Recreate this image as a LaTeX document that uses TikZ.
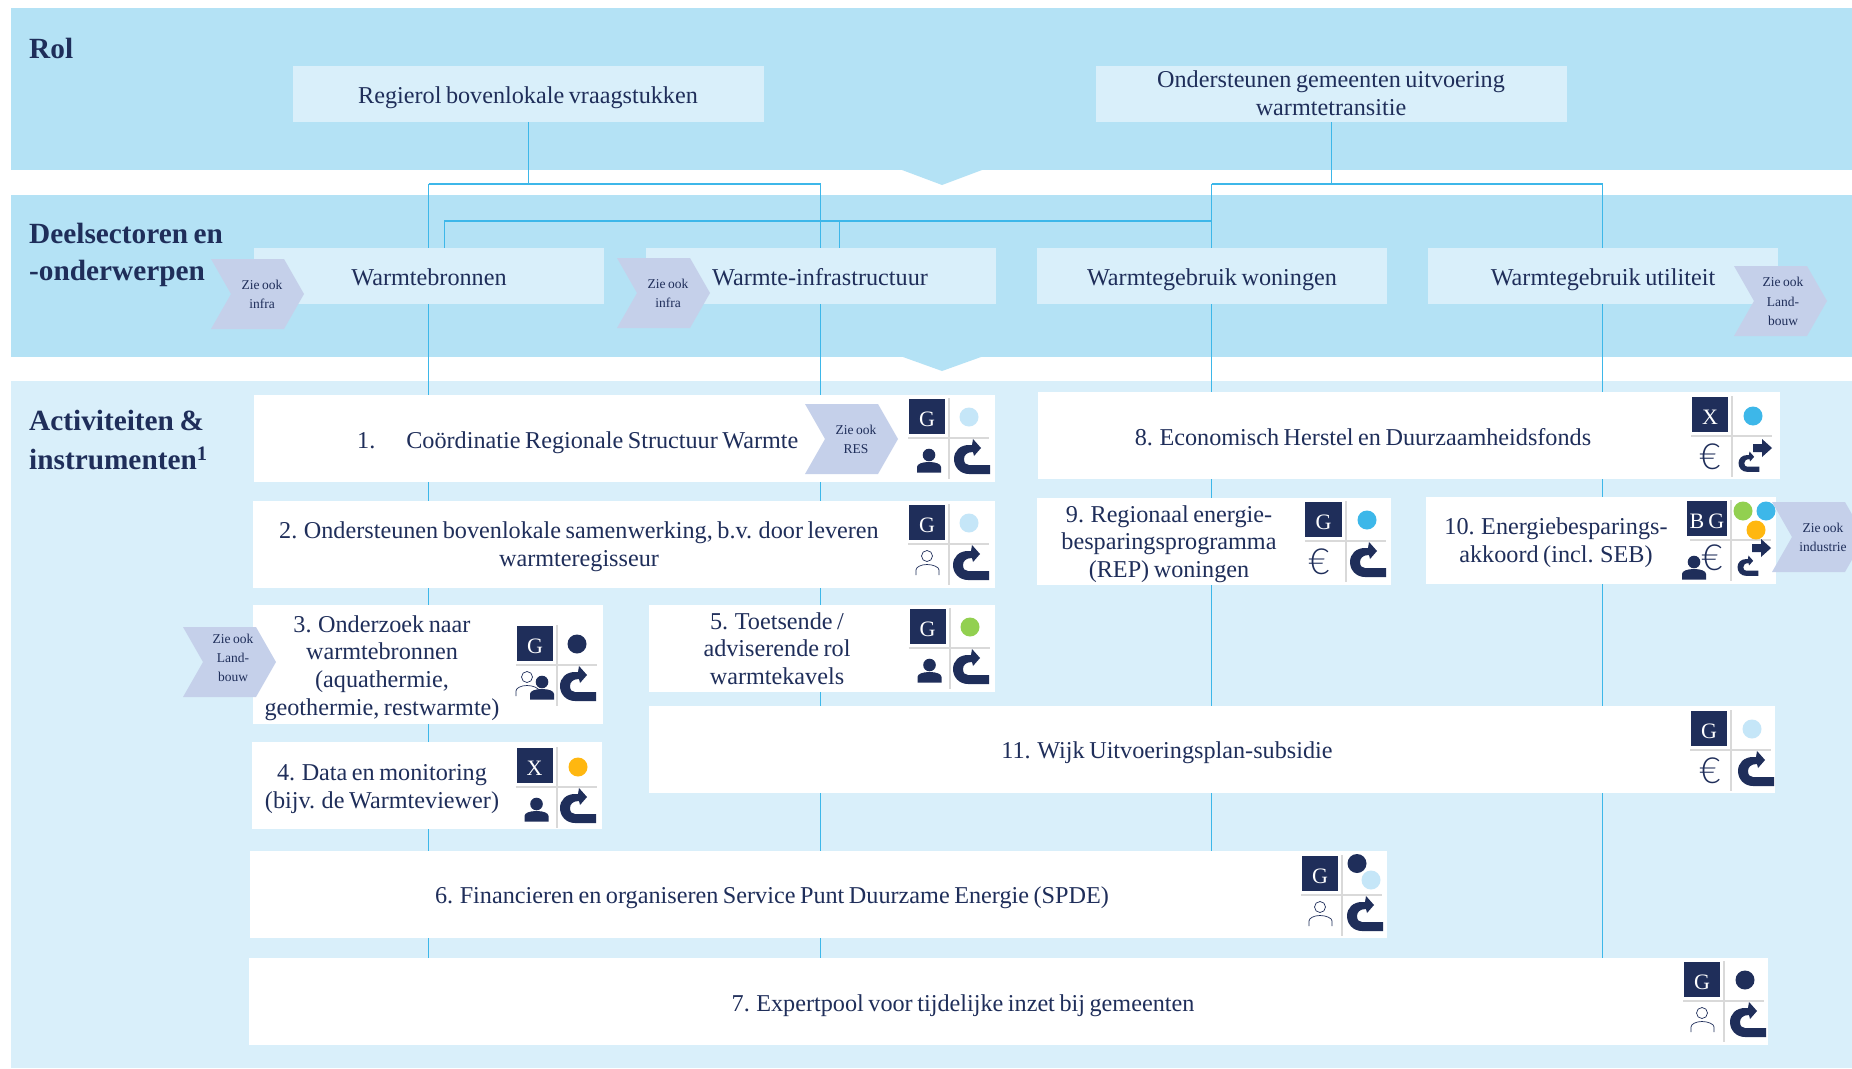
\documentclass[tikz,border=0pt]{standalone}
\usepackage{fontspec}
\setmainfont[WordSpace=0.75]{Liberation Serif}
\newfontfamily\eurofont{Lato Light}
\definecolor{navy}{HTML}{1F2E5A}
\definecolor{bandc}{HTML}{B4E2F5}
\definecolor{lightc}{HTML}{D9EFFA}
\definecolor{chevc}{HTML}{C5D0EA}
\definecolor{linec}{HTML}{3DB7E9}
\definecolor{gridc}{HTML}{D9D9D9}
\definecolor{dotlight}{HTML}{C5E6F8}
\definecolor{dotcyan}{HTML}{3DB7E9}
\definecolor{dotgreen}{HTML}{92D050}
\definecolor{dotamber}{HTML}{FFB710}
\tikzset{
  x=1pt,y=-1pt,
  txt/.style={font=\fontsize{24.2}{27.7}\selectfont,text=navy,align=center,inner sep=0pt,yshift=-2.5pt,
    execute at begin node=\strut,execute at end node=\strut},
  head/.style={font=\bfseries\fontsize{29.3}{32}\selectfont,text=navy,anchor=west,inner sep=0pt},
  lbox/.style={fill=lightc,inner sep=0pt,minimum height=56pt},
  wbox/.style={fill=white,inner sep=0pt,minimum height=87pt},
  chevtxt/.style={font=\fontsize{13.5}{19.3}\selectfont,text=navy,align=center,inner sep=0pt},
  link/.style={draw=linec,line width=1pt},
  hublink/.style={draw=linec,line width=1.6pt},
  gridline/.style={draw=gridc,line width=2pt},
  sqtxt/.style={font=\fontsize{22}{22}\selectfont,text=white,inner sep=0pt},
  dot/.style={circle,inner sep=0pt,minimum size=19pt},
  eurotxt/.style={font=\eurofont\fontsize{36}{36}\selectfont,text=navy,inner sep=0pt},
}
\newcounter{iconno}
% arrow-shaped reference tag: x, y, name, text offset x, text offset y, text
\newcommand{\zie}[6]{%
  \fill[chevc] (#1,#2) -- ++(73,0) -- ++(20,35) -- ++(-20,35) -- ++(-73,0) -- ++(20,-35) -- cycle;
  \node[chevtxt] (#3) at (#1+#4,#2+#5) {#6};}
% base of an icon block: crossing at #1,#2; label #3; left edge of the square #4
\newcommand{\icongrid}[4]{%
  \stepcounter{iconno}%
  \draw[gridline] (#1-41,#2) -- (#1+40,#2);
  \draw[gridline] (#1,#2-40) -- (#1,#2+41);
  \fill[navy] (#1+#4,#2-39) rectangle (#1-4,#2-4);
  \node[sqtxt] (sq\theiconno) at ({#1+(#4-4)/2},#2-18.5) {#3};}
\newcommand{\bigarrowshape}{%
  \fill[navy] (42,27) -- (42,36) -- (21,36) .. controls (12,36) and (6,29) .. (6,21)
    .. controls (6,13) and (12,7) .. (21,7) -- (24,7) -- (25,1) -- (33,10) -- (26,18) -- (25,14)
    .. controls (19,14) and (16,17) .. (16,21) .. controls (16,25) and (18,27) .. (21,27) -- cycle;}
\newcommand{\bigarrow}[2]{\begin{scope}[shift={(#1,#2)}]\bigarrowshape\end{scope}}
% small curved arrow with block arrow; #3 = vertical offset of the block arrow
\newcommand{\smallarrow}[3]{%
  \begin{scope}[shift={(#1,#2)}]
    \begin{scope}[shift={(3,15)},scale=.58]\bigarrowshape\end{scope}
    \fill[navy] (21,#3+4) -- (30,#3+4) -- (30,#3-1) -- (40,#3+8) -- (30,#3+17) -- (30,#3+12) -- (21,#3+12) -- cycle;
  \end{scope}}
\newcommand{\personfilled}[3]{%
  \begin{scope}[shift={(#1,#2)},scale=#3]
    \fill[navy] (-20,17) circle[radius=6.3];
    \fill[navy] (-32,34.5) -- (-32,29) .. controls (-32,26) and (-27,24) .. (-20,24)
      .. controls (-13,24) and (-8,26) .. (-8,29) -- (-8,34.5) -- cycle;
  \end{scope}}
\newcommand{\personline}[2]{%
  \begin{scope}[shift={(#1,#2)}]
    \draw[navy,line width=.7pt] (-22,12) circle[radius=5.5];
    \draw[navy,line width=.7pt] (-33,31) -- (-33,26) .. controls (-33,23) and (-28,20.5) .. (-22,20.5)
      .. controls (-16,20.5) and (-10,23) .. (-10,26) -- (-10,31);
  \end{scope}}
\newcommand{\euro}[2]{\node[eurotxt] (eur\theiconno) at (#1,#2) {€};}
\newcommand{\onedot}[4]{\node[dot,fill=#4] (dot\theiconno#3) at (#1,#2) {};}
\begin{document}
\begin{tikzpicture}
\clip (0,0) rectangle (1852,1068);
\useasboundingbox (0,0) rectangle (1852,1068);
\fill[white] (0,0) rectangle (1852,1068);
% bands
\fill[bandc] (11,8) rectangle (1852,170);
\fill[bandc] (11,195) rectangle (1852,357);
\fill[lightc] (11,381) rectangle (1852,1068);
\fill[bandc] (902,170) -- (982,170) -- (942,185) -- cycle;
\fill[bandc] (903,357) -- (981,357) -- (942,371) -- cycle;
% connector junctions
\coordinate (hubA) at (528,184);
\coordinate (hubB) at (1331,184);
\coordinate (hubC) at (444,221);
\coordinate (hubD) at (839,221);
% role and sector boxes
\node[lbox,minimum width=471pt] (regie) at (528,94) {};
\node[lbox,minimum width=471pt] (onder) at (1331,94) {};
\node[lbox,minimum width=350pt] (bron) at (428.5,276) {};
\node[lbox,minimum width=350pt] (infra) at (820.5,276) {};
\node[lbox,minimum width=350pt] (won) at (1211.5,276) {};
\node[lbox,minimum width=350pt] (util) at (1602.5,276) {};
% activity boxes
\node[wbox,minimum width=741pt] (b1) at (624.5,438.5) {};
\node[wbox,minimum width=742pt] (b2) at (624,544.5) {};
\node[wbox,minimum width=350pt,minimum height=119pt] (b3) at (428,664.5) {};
\node[wbox,minimum width=350pt] (b4) at (427,785.5) {};
\node[wbox,minimum width=346pt] (b5) at (822,648.5) {};
\node[wbox,minimum width=1137pt] (b6) at (818.5,894.5) {};
\node[wbox,minimum width=1519pt] (b7) at (1008.5,1001.5) {};
\node[wbox,minimum width=742pt] (b8) at (1409,435.5) {};
\node[wbox,minimum width=354pt] (b9) at (1214,541.5) {};
\node[wbox,minimum width=350pt] (b10) at (1601,540.5) {};
\node[wbox,minimum width=1126pt] (b11) at (1212,749.5) {};
% connectors, each segment between box edges
\draw[link] (regie.south) -- (hubA);
\draw[link] (onder.south) -- (hubB);
\draw[link] (bron.north) -- (bron.north |- hubA);
\draw[link] (infra.north) -- (infra.north |- hubA);
\draw[link] (won.north) -- (won.north |- hubB);
\draw[link] (util.north) -- (util.north |- hubB);
\draw[hublink] (bron.north |- hubA) -- (infra.north |- hubA);
\draw[hublink] (won.north |- hubB) -- (util.north |- hubB);
\draw[hublink] (hubC) -- (won.north |- hubC);
\draw[link] (hubC) -- (hubC |- bron.north);
\draw[link] (hubD) -- (hubD |- infra.north);
\draw[link] (bron.south) -- (bron.south |- b1.north);
\draw[link] (bron.south |- b1.south) -- (bron.south |- b2.north);
\draw[link] (bron.south |- b2.south) -- (bron.south |- b3.north);
\draw[link] (bron.south |- b3.south) -- (bron.south |- b4.north);
\draw[link] (bron.south |- b4.south) -- (bron.south |- b6.north);
\draw[link] (bron.south |- b6.south) -- (bron.south |- b7.north);
\draw[link] (infra.south) -- (infra.south |- b1.north);
\draw[link] (infra.south |- b1.south) -- (infra.south |- b2.north);
\draw[link] (infra.south |- b2.south) -- (infra.south |- b5.north);
\draw[link] (infra.south |- b5.south) -- (infra.south |- b11.north);
\draw[link] (infra.south |- b11.south) -- (infra.south |- b6.north);
\draw[link] (infra.south |- b6.south) -- (infra.south |- b7.north);
\draw[link] (won.south) -- (won.south |- b8.north);
\draw[link] (won.south |- b8.south) -- (won.south |- b9.north);
\draw[link] (won.south |- b9.south) -- (won.south |- b11.north);
\draw[link] (won.south |- b11.south) -- (won.south |- b6.north);
\draw[link] (util.south) -- (util.south |- b8.north);
\draw[link] (util.south |- b8.south) -- (util.south |- b10.north);
\draw[link] (util.south |- b10.south) -- (util.south |- b11.north);
\draw[link] (util.south |- b11.south) -- (util.south |- b7.north);
% headings
\node[head] (hRol) at (29,48) {Rol};
\node[head] (hDeelA) at (29,233) {Deelsectoren en};
\node[head] (hDeelB) at (29,273) {-onderwerpen};
\node[head] (hActA) at (29,420) {Activiteiten \&};
\node[head] (hActB) at (29,458) {instrumenten\textsuperscript{1}};
% box texts
\node[txt] (tregie) at (528,95) {Regierol bovenlokale vraagstukken};
\node[txt] (tonder) at (1331,95) {Ondersteunen gemeenten uitvoering\\warmtetransitie};
\node[txt] (tbron) at (429,277) {Warmtebronnen};
\node[txt] (tinfra) at (820,277) {Warmte-infrastructuur};
\node[txt] (twon) at (1212,277) {Warmtegebruik woningen};
\node[txt] (tutil) at (1603,277) {Warmtegebruik utiliteit};
\node[txt,anchor=west] (t1) at (357,440) {1.\hspace{31pt}Coördinatie Regionale Structuur Warmte};
\node[txt] (t2) at (579,546) {2. Ondersteunen bovenlokale samenwerking, b.v. door leveren\\warmteregisseur};
\node[txt] (t3) at (382,667) {3. Onderzoek naar\\warmtebronnen\\(aquathermie,\\geothermie, restwarmte)};
\node[txt] (t4) at (382,788) {4. Data en monitoring\\(bijv. de Warmteviewer)};
\node[txt] (t5) at (777,650) {5. Toetsende /\\adviserende rol\\warmtekavels};
\node[txt] (t6) at (772,895) {6. Financieren en organiseren Service Punt Duurzame Energie (SPDE)};
\node[txt] (t7) at (963,1003) {7. Expertpool voor tijdelijke inzet bij gemeenten};
\node[txt] (t8) at (1363,437) {8. Economisch Herstel en Duurzaamheidsfonds};
\node[txt] (t9) at (1169,543) {9. Regionaal energie-\\besparingsprogramma\\(REP) woningen};
\node[txt] (t10) at (1556,542) {10. Energiebesparings-\\akkoord (incl. SEB)};
\node[txt] (t11) at (1167,750) {11. Wijk Uitvoeringsplan-subsidie};
% reference tags
\zie{211}{259}{zA}{51}{35.5}{Zie ook\\infra}
\zie{617}{258}{zB}{51}{35.5}{Zie ook\\infra}
\zie{1734}{266}{zC}{49}{35.5}{Zie ook\\Land-\\bouw}
\zie{805}{404}{zD}{51}{35.5}{Zie ook\\RES}
\zie{183}{627}{zE}{50}{31}{Zie ook\\Land-\\bouw}
\zie{1772}{502}{zF}{51}{35.5}{Zie ook\\industrie}
% icon 1
\icongrid{949}{438}{G}{-40}
\onedot{969}{417}{a}{dotlight}
\personfilled{949}{438}{1}
\bigarrow{948}{438}
% icon 2
\icongrid{949}{544}{G}{-40}
\onedot{969}{523}{a}{dotlight}
\personline{949}{544}
\bigarrow{947}{544}
% icon 3
\icongrid{557}{665}{G}{-40}
\onedot{577}{644}{a}{navy}
\personline{549}{665}
\personfilled{562}{665}{1}
\bigarrow{554}{665}
% icon 4
\icongrid{556.5}{787}{X}{-40}
\onedot{578}{767}{a}{dotamber}
\personfilled{556.5}{787}{1}
\bigarrow{554}{787}
% icon 5
\icongrid{949.5}{648}{G}{-40}
\onedot{970}{627}{a}{dotgreen}
\personfilled{949.5}{648}{1}
\bigarrow{947}{648}
% icon 6
\icongrid{1342}{895}{G}{-40}
\onedot{1357}{863.5}{a}{navy}
\onedot{1371}{880}{b}{dotlight}
\personline{1342}{895}
\bigarrow{1341}{895}
% icon 7
\icongrid{1724}{1001}{G}{-40}
\onedot{1745}{980}{a}{navy}
\personline{1724}{1001}
\bigarrow{1724}{1001}
% icon 8
\icongrid{1732}{436}{X}{-40}
\onedot{1753}{416}{a}{dotcyan}
\euro{1710}{457}
\smallarrow{1732}{436}{4}
% icon 9
\icongrid{1346}{541}{G}{-41}
\onedot{1367}{520}{a}{dotcyan}
\euro{1319}{562}
\bigarrow{1344}{541}
% icon 10
\icongrid{1731}{540}{B G}{-44}
\onedot{1743}{511}{a}{dotgreen}
\onedot{1766}{511}{b}{dotcyan}
\onedot{1756}{530}{c}{dotamber}
\euro{1712}{558}
\personfilled{1714}{545}{1}
\smallarrow{1731}{540}{0}
% icon 11
\icongrid{1731}{750}{G}{-40}
\onedot{1752}{729}{a}{dotlight}
\euro{1710}{771}
\bigarrow{1732}{750}
\end{tikzpicture}
\end{document}
